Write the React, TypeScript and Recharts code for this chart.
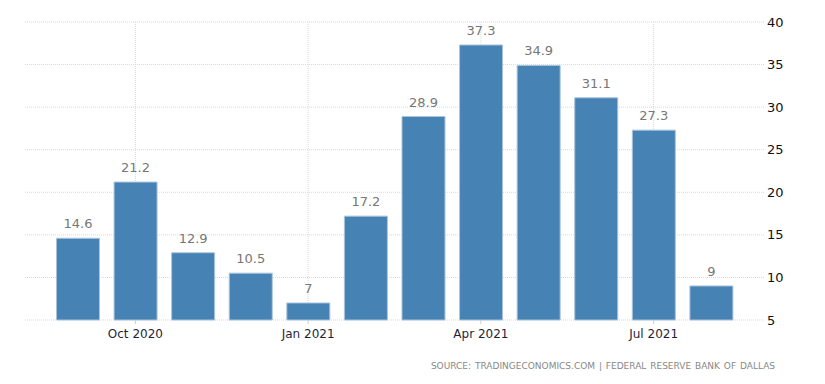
import { Bar, BarChart, CartesianGrid, LabelList, XAxis, YAxis } from "recharts";

const months = [
  "Sep 2020",
  "Oct 2020",
  "Nov 2020",
  "Dec 2020",
  "Jan 2021",
  "Feb 2021",
  "Mar 2021",
  "Apr 2021",
  "May 2021",
  "Jun 2021",
  "Jul 2021",
  "Aug 2021",
];
const values = [14.6, 21.2, 12.9, 10.5, 7, 17.2, 28.9, 37.3, 34.9, 31.1, 27.3, 9];
const xTicks = ["Oct 2020", "Jan 2021", "Apr 2021", "Jul 2021"];
const yTicks = [5, 10, 15, 20, 25, 30, 35, 40];

const data = months.map((month, i) => ({ month, value: values[i] }));

const font = "'DejaVu Sans', Verdana, sans-serif";

export default function App() {
  return (
    <div style={{ position: "absolute", left: 0, top: 0, width: 825, height: 384, background: "#fff" }}>
      <BarChart
        width={825}
        height={384}
        data={data}
        margin={{ top: 22, right: 10, bottom: 44, left: 25 }}
        barCategoryGap="13%"
      >
        <CartesianGrid stroke="#d9d9d9" strokeDasharray="1 1" syncWithTicks />
        <XAxis
          dataKey="month"
          ticks={xTicks}
          interval={0}
          padding={{ left: 24, right: 25 }}
          axisLine={false}
          tickLine={{ stroke: "#ccc" }}
          tickSize={4}
          tickMargin={5}
          height={20}
          tick={{ fontSize: 12, fill: "#1f1f3a", fontFamily: font }}
        />
        <YAxis
          orientation="right"
          domain={[5, 40]}
          ticks={yTicks}
          width={50}
          axisLine={false}
          tickLine={false}
          tickSize={0}
          tickMargin={2}
          tick={{ fontSize: 13, fill: "#111", fontFamily: font }}
        />
        <Bar dataKey="value" fill="#4682b4" stroke="#a9c4dc" strokeWidth={1} isAnimationActive={false}>
          <LabelList
            dataKey="value"
            position="top"
            offset={10}
            style={{ fontSize: 13, fill: "#777", fontFamily: font }}
          />
        </Bar>
      </BarChart>
      <div
        style={{
          position: "absolute",
          right: 50,
          top: 361,
          fontSize: 9,
          letterSpacing: 0,
          wordSpacing: 1,
          color: "#888",
          fontFamily: font,
          whiteSpace: "nowrap",
        }}
      >
        SOURCE: TRADINGECONOMICS.COM | FEDERAL RESERVE BANK OF DALLAS
      </div>
    </div>
  );
}
